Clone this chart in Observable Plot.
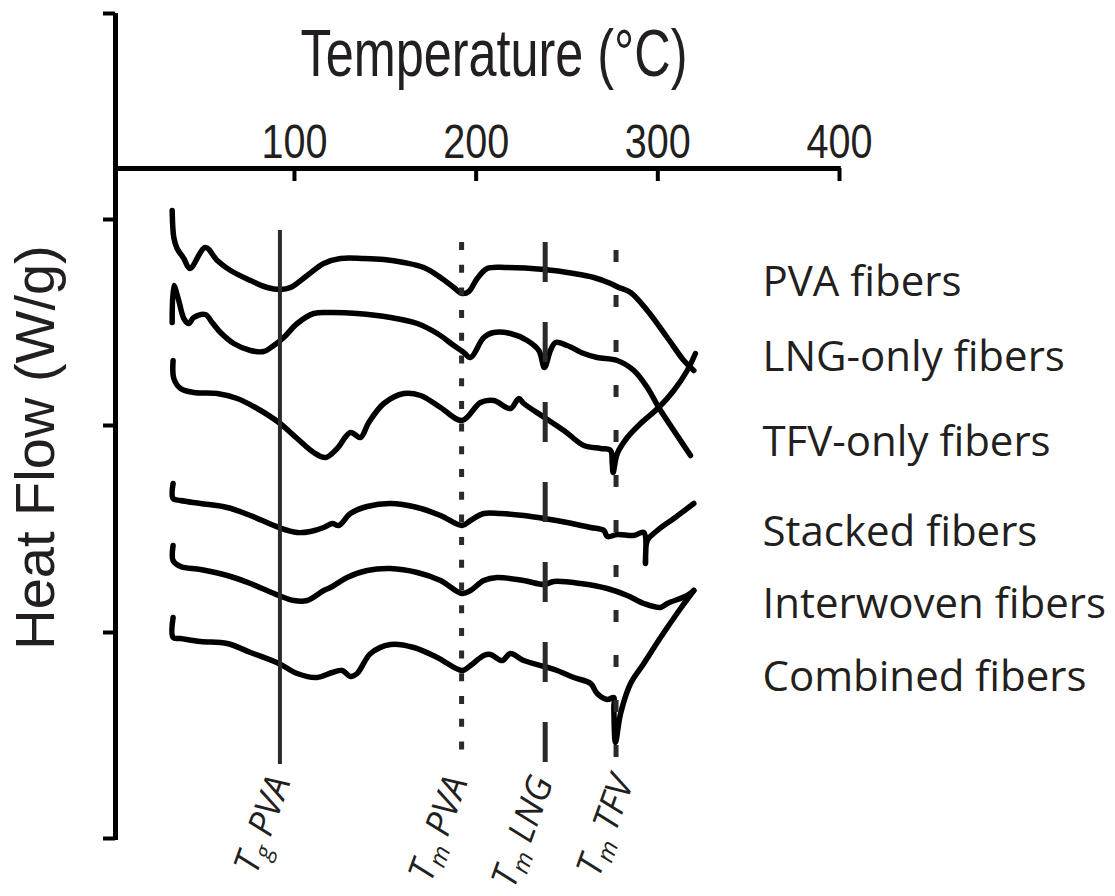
<!DOCTYPE html>
<html>
<head>
<meta charset="utf-8">
<script src="https://cdn.jsdelivr.net/npm/d3@7"></script>
<script src="https://cdn.jsdelivr.net/npm/@observablehq/plot@0.6"></script>
<style>
  html, body { margin: 0; padding: 0; background: #fff; }
</style>
</head>
<body>
<div id="chart"></div>
<script>
// DSC heat-flow traces (arbitrary stacked offsets) versus temperature, °C.
const seriesNames = ["PVA fibers", "LNG-only fibers", "TFV-only fibers", "Stacked fibers", "Interwoven fibers", "Combined fibers"];

const pvaT  = [32.7, 33.6, 35.4, 39.1, 42.4, 51.0, 57.5, 64.8, 75.8, 85.0, 92.3, 97.8, 107.0, 116.1, 125.3, 138.2, 149.2, 160.2, 171.2, 180.4, 187.7, 192.3, 196.0, 200.6, 206.1, 217.1, 237.6, 253.8, 264.8, 274.0, 278.5, 285.0, 294.2, 305.2, 314.3, 319.8];
const pvaHF = [6.28, 6.01, 5.90, 5.80, 5.70, 5.91, 5.78, 5.68, 5.58, 5.51, 5.49, 5.51, 5.63, 5.75, 5.80, 5.80, 5.79, 5.76, 5.71, 5.61, 5.51, 5.45, 5.47, 5.60, 5.70, 5.71, 5.69, 5.65, 5.61, 5.55, 5.51, 5.46, 5.28, 5.01, 4.78, 4.68];

const lngT  = [32.7, 33.6, 36.3, 39.1, 41.8, 44.6, 51.0, 54.7, 59.3, 66.6, 75.8, 83.1, 88.6, 94.1, 101.5, 110.6, 119.8, 134.5, 152.9, 167.6, 178.6, 187.7, 193.2, 196.9, 204.2, 209.7, 218.9, 228.1, 234.5, 237.6, 240.9, 243.7, 250.1, 259.3, 266.6, 277.7, 286.8, 294.2, 300.5, 308.8, 318.0];
const lngHF = [5.16, 5.53, 5.38, 5.20, 5.15, 5.21, 5.24, 5.16, 5.06, 4.95, 4.88, 4.87, 4.93, 5.01, 5.15, 5.25, 5.26, 5.25, 5.21, 5.15, 5.05, 4.93, 4.86, 4.81, 5.01, 5.06, 5.05, 4.98, 4.88, 4.71, 4.88, 4.96, 4.93, 4.85, 4.81, 4.78, 4.68, 4.51, 4.31, 4.08, 3.83];

const tfvT  = [33.2, 33.6, 37.3, 44.6, 57.5, 68.5, 79.5, 91.4, 101.5, 110.6, 117.1, 123.5, 130.8, 136.3, 140.9, 149.2, 160.2, 169.4, 180.4, 192.3, 202.4, 209.7, 218.9, 223.5, 226.2, 237.6, 248.3, 259.3, 268.5, 274.0, 274.9, 275.4, 277.7, 283.2, 290.5, 300.5, 308.8, 316.2, 320.7];
const tfvHF = [4.78, 4.60, 4.50, 4.46, 4.45, 4.40, 4.30, 4.16, 4.00, 3.86, 3.81, 3.90, 4.06, 4.01, 4.16, 4.35, 4.45, 4.43, 4.31, 4.18, 4.36, 4.38, 4.30, 4.40, 4.35, 4.21, 4.08, 3.93, 3.90, 3.88, 3.75, 3.66, 3.85, 4.01, 4.15, 4.31, 4.48, 4.68, 4.85];

const stackedT  = [33.2, 33.2, 37.3, 48.3, 63.0, 75.8, 91.4, 101.5, 108.8, 116.1, 120.8, 124.4, 130.8, 140.0, 152.9, 167.6, 180.4, 192.3, 196.9, 204.2, 213.4, 226.2, 237.6, 250.1, 263.0, 270.3, 272.2, 277.7, 286.8, 292.3, 293.2, 294.2, 299.7, 308.8, 319.8];
const stackedHF = [3.55, 3.40, 3.38, 3.35, 3.31, 3.23, 3.11, 3.06, 3.07, 3.11, 3.15, 3.13, 3.25, 3.32, 3.35, 3.31, 3.23, 3.13, 3.18, 3.25, 3.25, 3.23, 3.20, 3.16, 3.11, 3.08, 3.02, 3.04, 3.03, 3.06, 2.75, 2.98, 3.08, 3.20, 3.35];

const interwovenT  = [33.2, 33.2, 37.3, 48.3, 63.0, 75.8, 91.4, 99.6, 107.0, 116.1, 119.8, 129.0, 140.0, 152.9, 167.6, 180.4, 192.3, 196.9, 204.2, 211.6, 226.2, 237.6, 242.8, 257.4, 272.2, 283.2, 292.3, 301.5, 305.2, 316.2, 319.8];
const interwovenHF = [2.93, 2.78, 2.72, 2.69, 2.63, 2.55, 2.43, 2.38, 2.38, 2.48, 2.51, 2.61, 2.68, 2.70, 2.66, 2.58, 2.45, 2.48, 2.58, 2.61, 2.58, 2.54, 2.57, 2.55, 2.50, 2.43, 2.35, 2.31, 2.35, 2.43, 2.48];

const combinedT  = [33.2, 33.2, 37.3, 48.3, 63.0, 75.8, 91.4, 101.5, 112.5, 120.8, 126.3, 130.8, 134.5, 141.9, 152.9, 165.7, 178.6, 192.3, 196.9, 204.2, 207.9, 214.4, 218.9, 226.2, 237.6, 244.6, 253.8, 263.0, 266.6, 272.2, 275.8, 275.8, 276.7, 279.5, 285.0, 292.3, 301.5, 312.5, 319.8];
const combinedHF = [2.21, 2.01, 2.00, 1.97, 1.95, 1.86, 1.75, 1.65, 1.61, 1.66, 1.68, 1.62, 1.65, 1.85, 1.94, 1.91, 1.81, 1.68, 1.73, 1.83, 1.84, 1.78, 1.85, 1.78, 1.72, 1.68, 1.61, 1.55, 1.45, 1.39, 1.41, 1.31, 0.96, 1.25, 1.55, 1.75, 2.01, 2.30, 2.48];

// Thermal transitions: glass transition (g) and melting points (m)
const transitionSub      = ["g", "m", "m", "m"];
const transitionMaterial = ["PVA", "PVA", "LNG", "TFV"];
const transitionTemp     = [92, 192, 238, 277];

const xTicks = [100, 200, 300, 400];
const yTicks = [0, 2.06, 4.13, 6.19, 8.25];

// ---- build tables ----
const seriesT  = [pvaT, lngT, tfvT, stackedT, interwovenT, combinedT];
const seriesHF = [pvaHF, lngHF, tfvHF, stackedHF, interwovenHF, combinedHF];
const traces = seriesNames.flatMap((name, s) =>
  seriesT[s].map((t, i) => ({series: name, t, hf: seriesHF[s][i]}))
);
const transitions = transitionTemp.map((t, i) => ({
  t, sub: transitionSub[i], material: transitionMaterial[i],
  label: `T${transitionSub[i]} ${transitionMaterial[i]}`
}));
const xTitle = "Temperature (°C)";
const yTitle = "Heat Flow (W/g)";

// ---- layout ----
const X0 = 1.5, X1 = 400;        // temperature span of the axis
const axisHF = 6.70;             // level at which the temperature axis sits
const ink = "#231f20";
const narrow = "'Liberation Sans Narrow', 'Arial Narrow', 'Liberation Sans', Arial, sans-serif";
const sans = "'Liberation Sans', Arial, sans-serif";
const humanist = "'Open Sans', 'Noto Sans', sans-serif";

const labelLevels = [5.43, 4.68, 3.83, 2.93, 2.21, 1.48];   // baselines of the series names
const lineTop = [6.08, 5.96, 5.96, 5.88];                    // upper ends of transition lines
const lineBottom = 0.74;                                     // lower end of transition lines
const lineDash = [null, "8,14.7", "40,40", "12,33"];
const labelShift = [6.0, 3.6, 4.6, 10.0];                    // °C offsets of rotated labels

const lineMarks = transitions.map((d, i) =>
  Plot.ruleX([d], {
    x: "t", y1: () => lineTop[i], y2: () => lineBottom,
    stroke: "#2a2a2a", strokeWidth: i === 0 ? 4 : 5,
    strokeDasharray: lineDash[i] ?? undefined
  })
);

const chart = Plot.plot({
  width: 1115,
  height: 896,
  marginLeft: 115,
  marginRight: 276,
  marginTop: 13,
  marginBottom: 58,
  x: {domain: [X0, X1], axis: null},
  y: {domain: [0, 8.25], label: null},
  style: {background: "#fff", overflow: "visible"},
  marks: [
    // heat-flow axis (unlabelled ticks)
    Plot.ruleX([X0], {y1: -0.02, y2: 8.25, stroke: "#000", strokeWidth: 5}),
    Plot.axisY(yTicks, {tickSize: 12, tickFormat: () => "", label: null, stroke: "#000", strokeWidth: 4}),
    // temperature axis along the top
    Plot.ruleY([axisHF], {x1: X0, x2: X1 + 1, stroke: "#000", strokeWidth: 5}),
    Plot.ruleX(xTicks, {x: d => d, y1: axisHF, y2: axisHF - 0.13, stroke: "#000", strokeWidth: 4}),
    Plot.text(xTicks, {
      x: d => d, y: axisHF, dy: -11, text: d => String(d),
      textAnchor: "middle", lineAnchor: "bottom",
      fontSize: 48, fontFamily: narrow, fill: ink
    }),
    Plot.text([xTitle], {
      x: 209.8, y: axisHF, dy: -93, textAnchor: "middle", lineAnchor: "bottom",
      fontSize: 66, fontFamily: narrow, fill: ink
    }),
    Plot.text([yTitle], {
      x: X0, dx: -62, y: 3.91, rotate: -90, textAnchor: "middle", lineAnchor: "bottom",
      fontSize: 56, fontFamily: sans, fill: ink
    }),
    // DSC traces
    Plot.line(traces, {
      x: "t", y: "hf", z: "series", stroke: "#000", strokeWidth: 5.5,
      curve: "catmull-rom", strokeLinecap: "round", strokeLinejoin: "round"
    }),
    // transition markers
    ...lineMarks,
    Plot.text(transitions, {
      x: (d, i) => d.t + labelShift[i], y: 0.57,
      text: "label",
      rotate: -70, textAnchor: "end", lineAnchor: "bottom",
      fontSize: 36, fontStyle: "italic", fontFamily: humanist, fill: ink
    }),
    // series names
    Plot.text(seriesNames, {
      x: 357.6, y: (d, i) => labelLevels[i], text: d => d,
      textAnchor: "start", lineAnchor: "bottom",
      fontSize: 42, fontFamily: humanist, fill: ink
    })
  ]
});

const NS = "http://www.w3.org/2000/svg";
const tickStrings = xTicks.map(String);
chart.querySelectorAll("text").forEach(el => {
  const s = el.textContent;
  // condensed axis typography
  if (s === xTitle) {
    el.setAttribute("textLength", "387");
    el.setAttribute("lengthAdjust", "spacingAndGlyphs");
  } else if (tickStrings.includes(s)) {
    el.setAttribute("textLength", "66");
    el.setAttribute("lengthAdjust", "spacingAndGlyphs");
  } else {
    // subscripted transition symbols (Tg, Tm)
    const d = transitions.find(d => d.label === s);
    if (!d) return;
    el.textContent = "";
    const a = document.createElementNS(NS, "tspan");
    a.textContent = "T";
    const b = document.createElementNS(NS, "tspan");
    b.textContent = d.sub;
    b.setAttribute("font-size", "24");
    b.setAttribute("dy", "7");
    const c = document.createElementNS(NS, "tspan");
    c.textContent = "\u00a0" + d.material;
    c.setAttribute("dy", "-7");
    el.append(a, b, c);
  }
});

document.getElementById("chart").append(chart);
</script>
</body>
</html>
